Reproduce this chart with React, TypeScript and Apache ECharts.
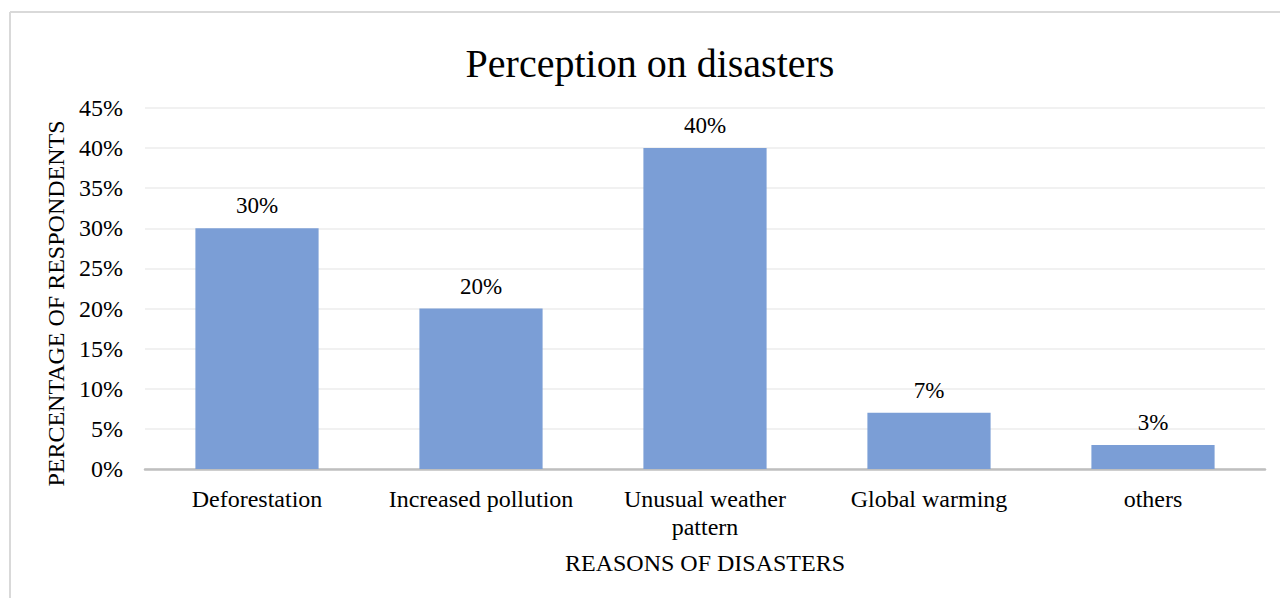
import React, { useEffect, useRef } from "react";
import * as echarts from "echarts";

const categories = ["Deforestation", "Increased pollution", "Unusual weather\npattern", "Global warming", "others"];
const values = [30, 20, 40, 7, 3];
const yTicks = [0, 5, 10, 15, 20, 25, 30, 35, 40, 45];

const FONT = "'Liberation Serif', 'Times New Roman', serif";

export default function App() {
  const ref = useRef<HTMLDivElement>(null);
  useEffect(() => {
    if (!ref.current) return;
    const chart = echarts.init(ref.current, null, { renderer: "svg" });
    chart.setOption({
      animation: false,
      backgroundColor: "#ffffff",
      textStyle: { fontFamily: FONT },
      title: {
        text: "Perception on disasters",
        left: 645,
        textAlign: "center",
        top: 38,
        textStyle: { fontFamily: FONT, fontSize: 40, fontWeight: "normal", color: "#000" },
      },
      graphic: [
        { type: "line", shape: { x1: 10, y1: 12, x2: 1280, y2: 12 }, style: { stroke: "#d9d9d9", lineWidth: 2 } },
        { type: "line", shape: { x1: 10, y1: 12, x2: 10, y2: 598 }, style: { stroke: "#d9d9d9", lineWidth: 2 } },
      ],
      grid: { left: 145, right: 15, top: 108, bottom: 129 },
      xAxis: {
        type: "category",
        data: categories,
        name: "REASONS OF DISASTERS",
        nameLocation: "middle",
        nameGap: 82,
        nameTextStyle: { fontFamily: FONT, fontSize: 24, color: "#000" },
        axisLine: { lineStyle: { color: "#bfbfbf", width: 2.5 } },
        axisTick: { show: false },
        axisLabel: { fontFamily: FONT, fontSize: 24, color: "#000", margin: 16, lineHeight: 28, interval: 0 },
      },
      yAxis: {
        type: "value",
        min: yTicks[0],
        max: yTicks[yTicks.length - 1],
        interval: 5,
        name: "PERCENTAGE OF RESPONDENTS",
        nameLocation: "middle",
        nameGap: 71,
        nameRotate: 90,
        nameTextStyle: { fontFamily: FONT, fontSize: 24, color: "#000", padding: [0, 30, 0, 0] },
        axisLine: { show: false },
        axisTick: { show: false },
        axisLabel: { fontFamily: FONT, fontSize: 24, color: "#000", margin: 22, formatter: (v: number) => v + "%" },
        splitLine: { lineStyle: { color: "#ececec", width: 1.5 } },
      },
      series: [
        {
          type: "bar",
          data: values,
          barWidth: "55%",
          itemStyle: { color: "#7b9ed6" },
          label: {
            show: true,
            position: "top",
            distance: 11,
            fontFamily: FONT,
            fontSize: 23,
            color: "#000",
            formatter: (p: any) => p.value + "%",
          },
        },
      ],
    });
    return () => chart.dispose();
  }, []);
  return <div ref={ref} style={{ position: "fixed", left: 0, top: 0, width: 1280, height: 598 }} />;
}
